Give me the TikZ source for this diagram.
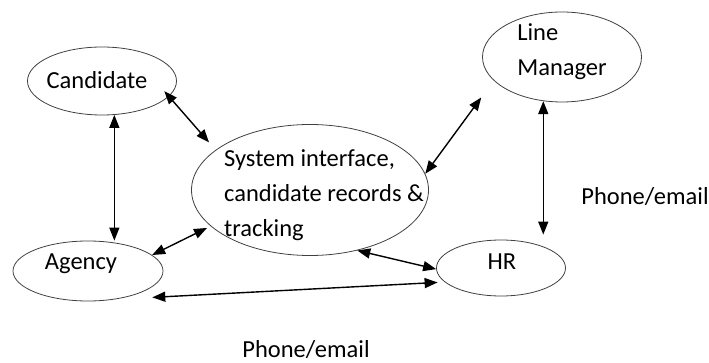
\documentclass[tikz,border=0pt]{standalone}
\usepackage{fontspec}
\setmainfont{Carlito}
\usetikzlibrary{arrows.meta, positioning, shapes.geometric}

\begin{document}
\begin{tikzpicture}[x=1pt, y=-1pt,
    party/.style={ellipse, draw=black!75, line width=0.8pt, inner sep=0pt},
    txt/.style={align=left, inner sep=0pt, font=\fontsize{24.5}{35}\selectfont},
    link/.style={{Triangle[length=13pt,width=10pt]}-{Triangle[length=13pt,width=10pt]}, line width=1.4pt}]
    \useasboundingbox (0,0) rectangle (709,363);
    \node[party, minimum width=149pt, minimum height=68pt,
          label={[txt, xshift=-5pt, yshift=1pt]center:Candidate}] (cand) at (102,81) {};
    \node[party, minimum width=237pt, minimum height=131pt,
          label={[txt, xshift=14pt, yshift=-5pt]center:System interface,\\candidate records \&\\tracking}] (sys) at (310,190) {};
    \node[party, minimum width=159pt, minimum height=90pt,
          label={[txt, xshift=0pt, yshift=5pt]center:Line\\Manager}] (lm) at (562,57) {};
    \node[party, minimum width=150pt, minimum height=60pt,
          label={[txt, xshift=-7pt, yshift=7pt]center:Agency}] (agency) at (88,271) {};
    \node[party, minimum width=129pt, minimum height=56pt,
          label={[txt, xshift=1pt, yshift=6pt]center:HR}] (hr) at (501,268) {};
    \node[txt] (phoneR) at (645,197) {Phone/email};
    \node[txt] (phoneB) at (306,350) {Phone/email};

    \path[link]
    (cand.-13.7) edge[shorten <=-7pt, shorten >=10pt] (sys.157.6)
    (cand.-70) edge (cand.-70 |- agency.north)
    (agency.14) edge[shorten >=4pt] (sys.-160.5)
    (sys.-52.4) edge (hr.-179)
    (agency.-46) edge[shorten <=37pt, shorten >=7pt] (hr.-166.8)
    (sys.8.4) edge[shorten >=21pt] (lm.-161)
    (lm.-113.5) edge[shorten >=5pt] (lm.-113.5 |- hr.north);
\end{tikzpicture}
\end{document}
